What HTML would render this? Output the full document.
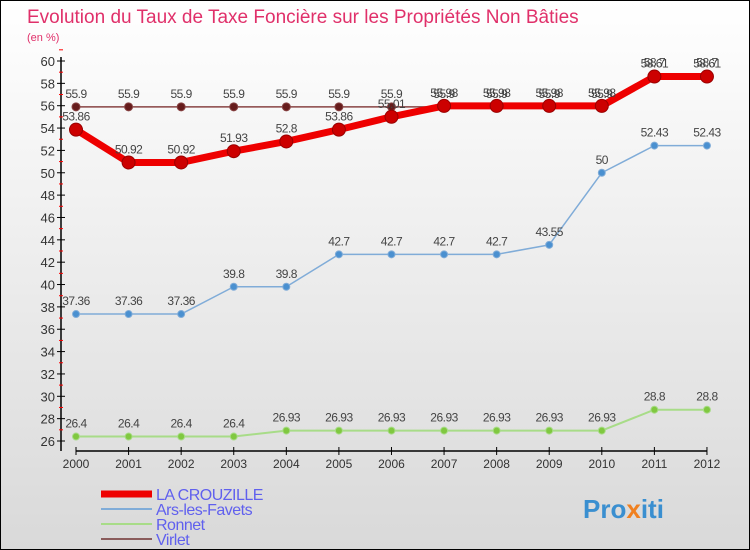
<!DOCTYPE html>
<html><head><meta charset="utf-8"><style>
body{margin:0;}
#c{position:relative;width:750px;height:550px;overflow:hidden;background:linear-gradient(#ffffff,#d9d9d9);font-family:"Liberation Sans",sans-serif;box-sizing:border-box;border:1px solid #000;}
</style></head><body>
<div id="c">
<svg id="s" width="750" height="550">
<text x="26" y="22" font-size="19" fill="#e0306a">Evolution du Taux de Taxe Foncière sur les Propriétés Non Bâties</text>
<text x="26" y="40" font-size="11" fill="#e0306a">(en %)</text>
<g id="axes"></g><g id="series"></g>
<g id="legend"></g>
<text x="582" y="517" font-size="26" font-weight="bold" fill="#3a8fd0">Pro<tspan fill="#f08020">x</tspan>iti</text>
</svg>
</div>
<script>
const years=["2000","2001","2002","2003","2004","2005","2006","2007","2008","2009","2010","2011","2012"];
const yTicks=[26,28,30,32,34,36,38,40,42,44,46,48,50,52,54,56,58,60];
const laCrouzille=[53.86,50.92,50.92,51.93,52.8,53.86,55.01,55.98,55.98,55.98,55.98,58.61,58.61];
const arsLesFavets=[37.36,37.36,37.36,39.8,39.8,42.7,42.7,42.7,42.7,43.55,50,52.43,52.43];
const ronnet=[26.4,26.4,26.4,26.4,26.93,26.93,26.93,26.93,26.93,26.93,26.93,28.8,28.8];
const virlet=[55.9,55.9,55.9,55.9,55.9,55.9,55.9,55.9,55.9,55.9,55.9,58.7,58.7];
const NS="http://www.w3.org/2000/svg";
const xS=i=>75+i*52.58;
const yS=v=>60+(60-v)*(380/34);
function mk(t,a,p){const e=document.createElementNS(NS,t);for(const k in a)e.setAttribute(k,a[k]);p.appendChild(e);return e;}
const ax=document.getElementById('axes');
const yl=mk('line',{x1:60,y1:56,x2:60,y2:450,stroke:'#000','stroke-width':1.5},ax);


yTicks.forEach(v=>{
 mk('line',{x1:56,x2:64,y1:yS(v),y2:yS(v),stroke:'#000'},ax);
 mk('line',{x1:58,x2:62,y1:yS(v+1),y2:yS(v+1),stroke:'#f00'},ax);
 const t=mk('text',{x:54,y:yS(v)+5,'text-anchor':'end','font-size':13,fill:'#333'},ax);
 t.textContent=v;
 
 
});
const xl=mk('line',{x1:75,y1:450,x2:xS(12),y2:450,stroke:'#000','stroke-width':1.5},ax);


years.forEach((y,i)=>{
 mk('line',{x1:xS(i),x2:xS(i),y1:446,y2:454,stroke:'#000'},ax);
 const t=mk('text',{x:xS(i),y:467,'text-anchor':'middle','font-size':12,fill:'#333'},ax);
 t.textContent=y;
 
 
});
const sg=document.getElementById('series');
function series(data,name,color,lw,r,dot,oc){
 const g=mk('g',{},sg);
 
 
 mk('polyline',{points:data.map((v,i)=>xS(i)+','+yS(v)).join(' '),fill:'none',stroke:color,'stroke-width':lw,'stroke-linejoin':'round'},g);
 data.forEach((v,i)=>{
  const c=mk('circle',{cx:xS(i),cy:yS(v),r:r,fill:dot,stroke:oc||color},g);
  
  
  const t=mk('text',{x:xS(i),y:yS(v)-9,'text-anchor':'middle','font-size':12,fill:'#444','letter-spacing':'-0.5'},g);
  t.textContent=v;
  
  
 });
}
series(ronnet,'ronnet-series','#a8dc88',2,3.5,'#80c840');
series(arsLesFavets,'ars-les-favets-series','#80acd8',1.5,3.5,'#4a90d0');
series(virlet,'virlet-series','#884444',1.5,4,'#661c1c');
series(laCrouzille,'la-crouzille-series','#ee0000',7,6.5,'#cc0000','#990000');
const lg=document.getElementById('legend');
[["LA CROUZILLE","#ee0000",7],["Ars-les-Favets","#80acd8",2],["Ronnet","#a8dc88",2],["Virlet","#8a5c5c",2]].forEach((d,i)=>{
 const y=493+i*15;
 const g=mk('g',{},lg);
 
 
 mk('line',{x1:100,x2:151,y1:y,y2:y,stroke:d[1],'stroke-width':d[2]},g);
 const t=mk('text',{x:155,y:y+6,'font-size':16,fill:'#6060ee','letter-spacing':'-0.5'},g);
 t.textContent=d[0];
});
</script>
</body></html>
